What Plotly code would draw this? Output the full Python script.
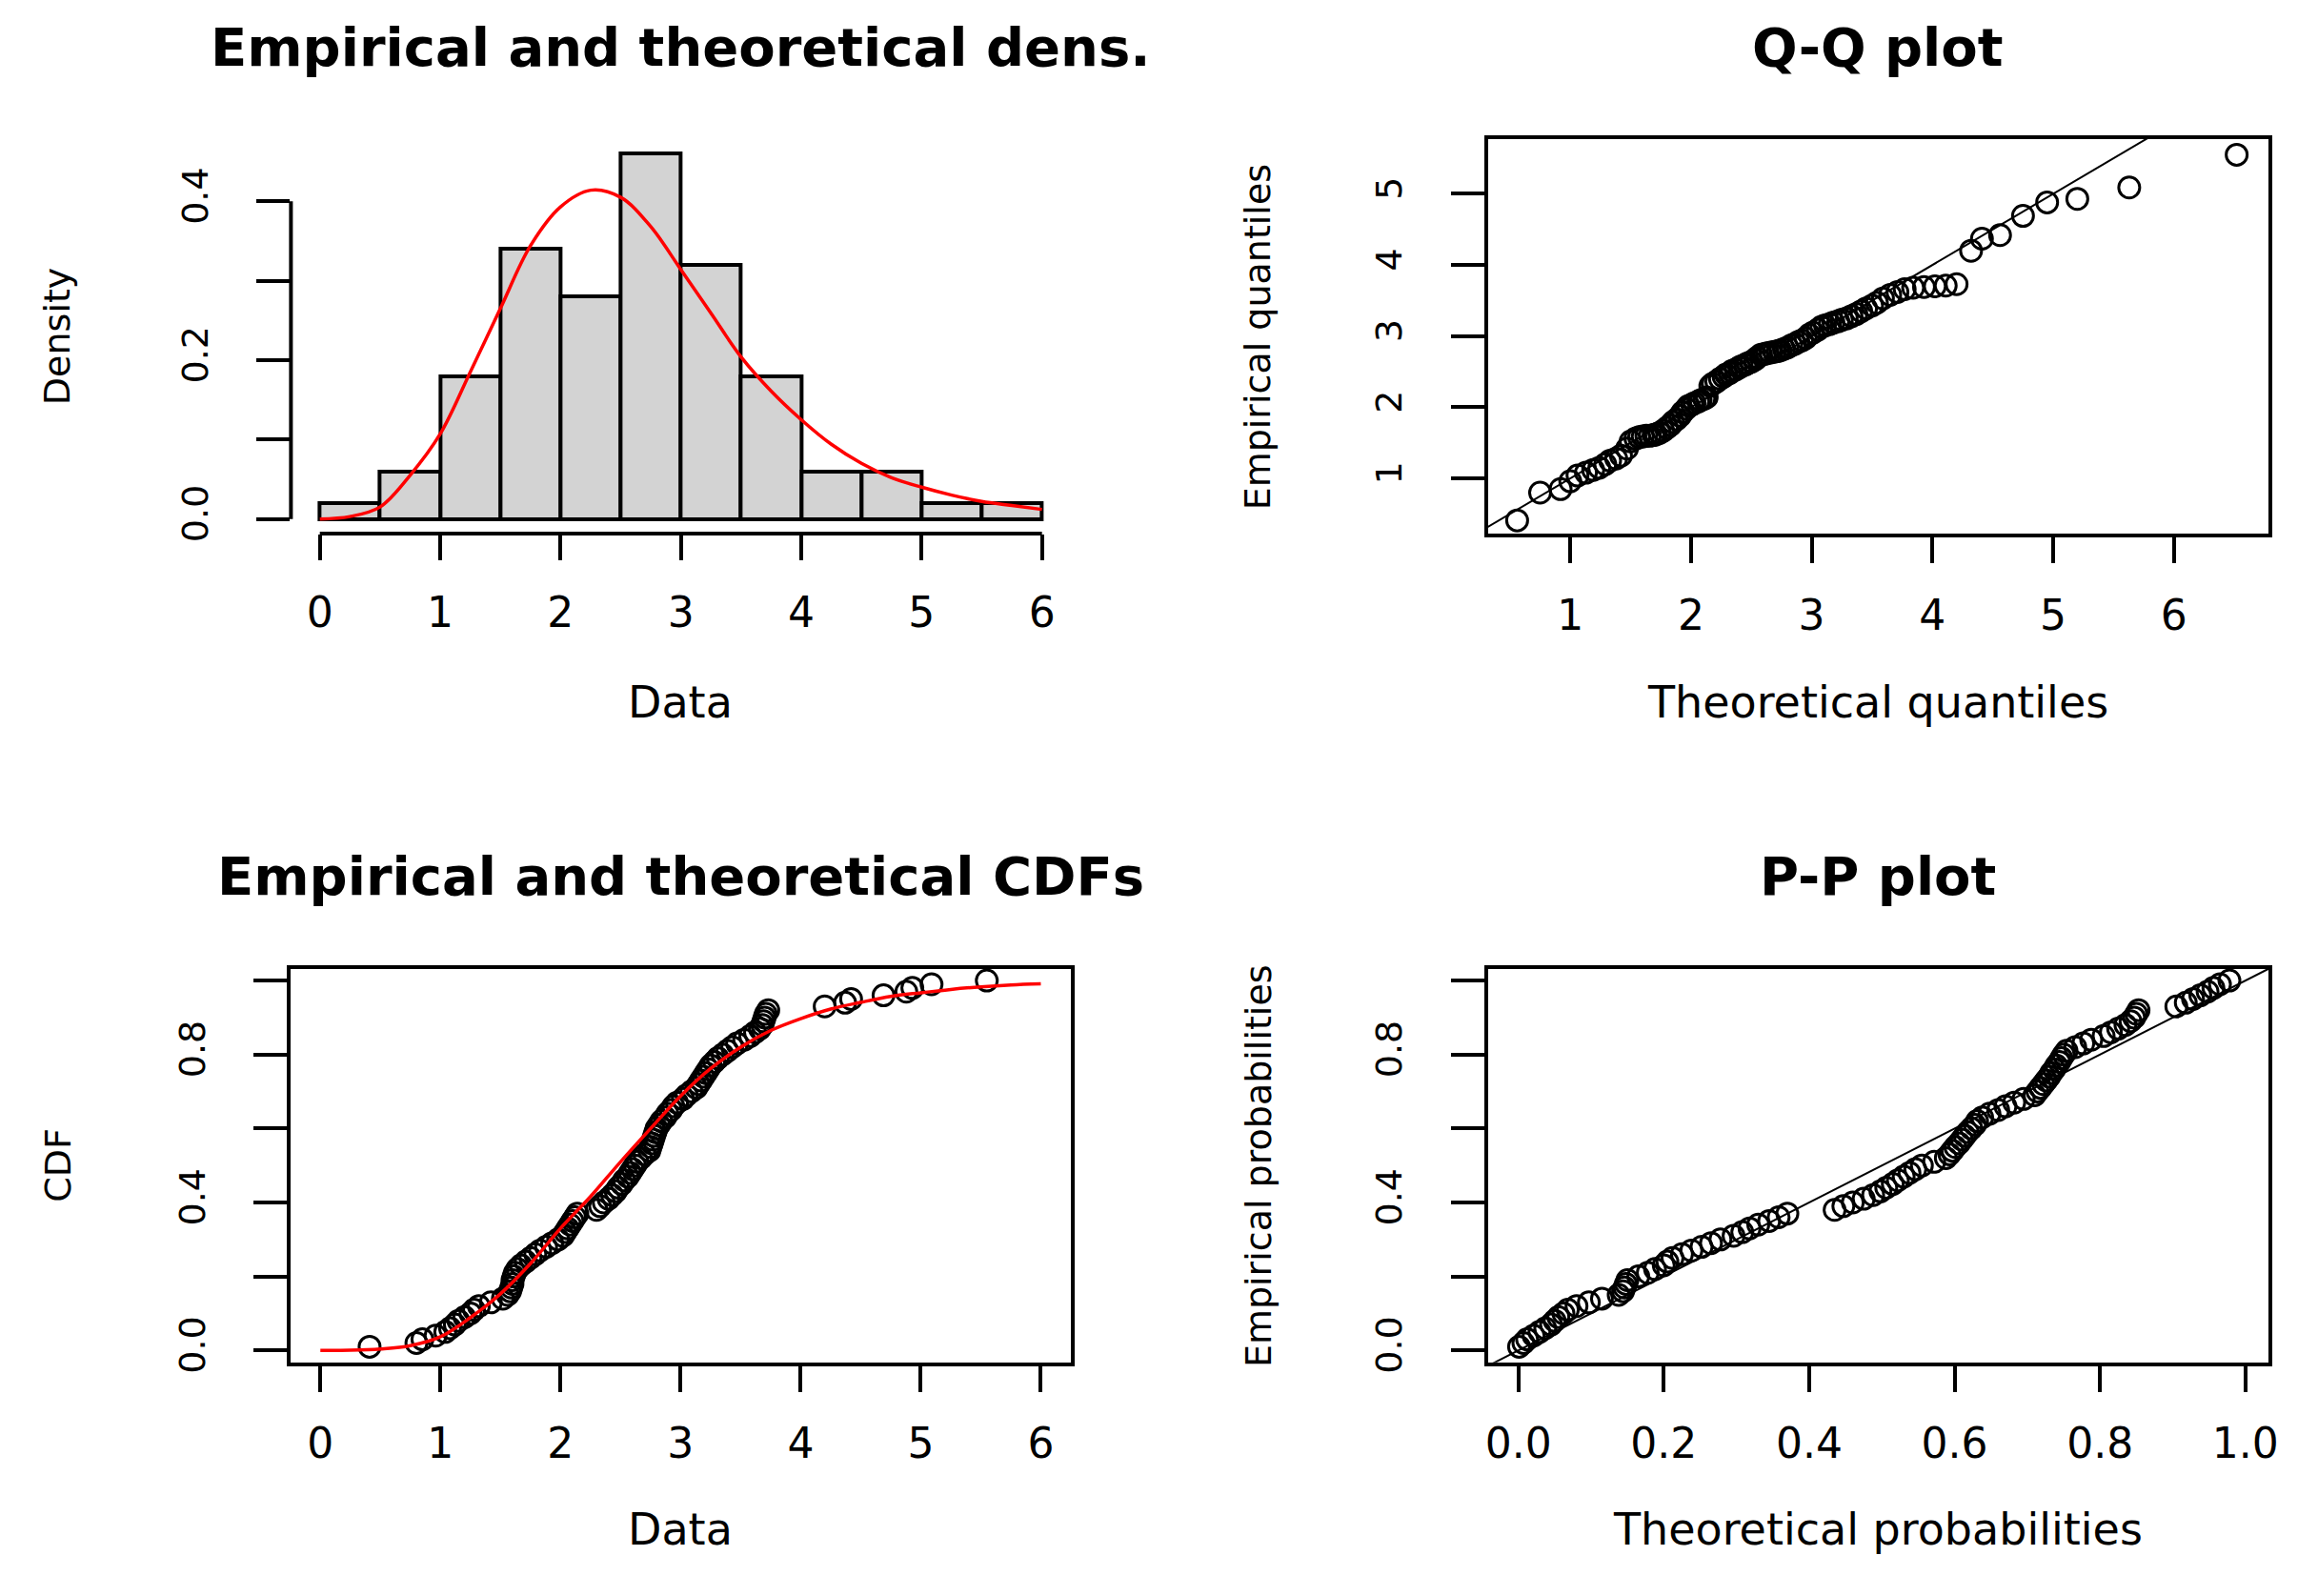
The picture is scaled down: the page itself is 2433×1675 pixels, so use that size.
import plotly.graph_objects as go

data_sorted = [0.41, 0.80, 0.85, 0.96,
               1.04, 1.08, 1.12, 1.15, 1.20, 1.25, 1.28, 1.32, 1.42,
               1.52, 1.56, 1.58, 1.59, 1.60, 1.60, 1.61, 1.62, 1.64, 1.67, 1.71, 1.75, 1.79, 1.83, 1.88, 1.93, 1.98,
               2.02, 2.04, 2.06, 2.08, 2.10, 2.12, 2.14, 2.30, 2.33, 2.36, 2.40, 2.43, 2.46, 2.48,
               2.51, 2.53, 2.56, 2.58, 2.60, 2.62, 2.64, 2.67, 2.70, 2.74, 2.75, 2.76, 2.77, 2.78, 2.79, 2.80,
               2.82, 2.84, 2.87, 2.89, 2.92, 2.94, 2.97,
               3.02, 3.05, 3.09, 3.13, 3.15, 3.17, 3.19, 3.21, 3.23, 3.25, 3.28, 3.31, 3.35, 3.39, 3.43, 3.47,
               3.53, 3.58, 3.62, 3.66, 3.68, 3.69, 3.70, 3.71, 3.73,
               4.20, 4.37, 4.42, 4.69, 4.88, 4.93, 5.09, 5.55]

# Q-Q plot x positions (theoretical quantiles)
theo_quant = [0.56, 0.75, 0.92, 1.00, 1.06, 1.13, 1.19, 1.24, 1.29, 1.33,
              1.38, 1.42, 1.47, 1.50, 1.54, 1.57, 1.60, 1.63, 1.66, 1.69,
              1.71, 1.74, 1.77, 1.80, 1.83, 1.85, 1.88, 1.91, 1.93, 1.96,
              1.98, 2.01, 2.03, 2.06, 2.08, 2.11, 2.13, 2.16, 2.18, 2.21,
              2.24, 2.27, 2.29, 2.32, 2.34, 2.37, 2.40, 2.42, 2.45, 2.47,
              2.50, 2.53, 2.55, 2.58, 2.61, 2.63, 2.66, 2.69, 2.72, 2.74,
              2.77, 2.80, 2.83, 2.86, 2.89, 2.92, 2.95, 2.98, 3.01, 3.05,
              3.08, 3.11, 3.15, 3.18, 3.22, 3.25, 3.29, 3.33, 3.37, 3.41,
              3.45, 3.50, 3.54, 3.59, 3.65, 3.71, 3.77, 3.84, 3.93, 4.02,
              4.11, 4.20, 4.32, 4.41, 4.56, 4.75, 4.95, 5.20, 5.63, 6.52]

# P-P plot x positions (theoretical probabilities)
theo_prob = [0.001, 0.007, 0.012, 0.021, 0.029, 0.037, 0.045, 0.050, 0.055, 0.062,
             0.068, 0.080, 0.097, 0.115, 0.138, 0.144, 0.146, 0.148, 0.150, 0.165,
             0.178, 0.188, 0.200, 0.205, 0.212, 0.225, 0.238, 0.252, 0.265, 0.278,
             0.296, 0.308, 0.318, 0.330, 0.345, 0.358, 0.370, 0.435, 0.447, 0.460,
             0.475, 0.488, 0.498, 0.506, 0.515, 0.522, 0.530, 0.538, 0.546, 0.555,
             0.572, 0.588, 0.593, 0.597, 0.601, 0.606, 0.610, 0.614, 0.618, 0.623,
             0.628, 0.631, 0.638, 0.648, 0.660, 0.670, 0.682, 0.695, 0.710, 0.714,
             0.718, 0.722, 0.726, 0.730, 0.733, 0.737, 0.740, 0.744, 0.747, 0.750,
             0.754, 0.766, 0.777, 0.788, 0.805, 0.815, 0.825, 0.835, 0.842, 0.847,
             0.850, 0.853, 0.905, 0.918, 0.928, 0.938, 0.948, 0.956, 0.965, 0.978]

# fitted curves (red), read at 0.25 steps
curve_x = [0, 0.25, 0.5, 0.75, 1.0, 1.25, 1.5, 1.75, 2.0, 2.25, 2.5, 2.75, 3.0,
           3.25, 3.5, 3.75, 4.0, 4.25, 4.5, 4.75, 5.0, 5.25, 5.5, 5.75, 6.0]
dens_y = [0.0, 0.003, 0.015, 0.055, 0.107, 0.185, 0.265, 0.344, 0.393, 0.414, 0.405, 0.368, 0.314,
          0.259, 0.204, 0.161, 0.125, 0.094, 0.070, 0.052, 0.040, 0.030, 0.022, 0.017, 0.012]
cdf_y = [0.0, 0.0005, 0.004, 0.013, 0.037, 0.089, 0.153, 0.235, 0.330, 0.416, 0.510, 0.600, 0.688,
         0.762, 0.820, 0.865, 0.897, 0.923, 0.941, 0.957, 0.967, 0.976, 0.983, 0.988, 0.991]

data_ticks = [0, 1, 2, 3, 4, 5, 6]
dens_ticks = [0, 0.1, 0.2, 0.3, 0.4]
dens_labels = ["0.0", "", "0.2", "", "0.4"]
qq_xticks = [1, 2, 3, 4, 5, 6]
qq_yticks = [1, 2, 3, 4, 5]
prob_ticks = [0, 0.2, 0.4, 0.6, 0.8, 1.0]
prob_labels = ["0.0", "", "0.4", "", "0.8", ""]
pp_xlabels = ["0.0", "0.2", "0.4", "0.6", "0.8", "1.0"]

n = len(data_sorted)
emp_prob = [(k + 1) / n for k in range(n)]

W, H = 2433, 1675
FONT = "DejaVu Sans"

# panel edges in pixels
left_x = [304 / W, 1127 / W]
right_x = [1567 / W, 2391 / W]
top_y = [1 - 564 / H, 1 - 147 / H]
bot_y = [1 - 1440 / H, 1 - 1024 / H]

qq_xrange = [0.317, 6.785]
qq_yrange = [0.225, 5.77]

circle = dict(symbol="circle-open", size=22, color="black", line=dict(width=3, color="black"))

fig = go.Figure()
fig.add_trace(go.Histogram(x=data_sorted, xbins=dict(start=0, end=6, size=0.5),
                           histnorm="probability density",
                           marker=dict(color="#d3d3d3", line=dict(color="black", width=4)),
                           xaxis="x", yaxis="y"))
fig.add_trace(go.Scatter(x=curve_x, y=dens_y, mode="lines",
                         line=dict(color="red", width=3.5, shape="spline"), xaxis="x", yaxis="y"))

lo = min(qq_xrange[0], qq_yrange[0])
hi = max(qq_xrange[1], qq_yrange[1])
fig.add_trace(go.Scatter(x=[lo, hi], y=[lo, hi], mode="lines", line=dict(color="black", width=2),
                         xaxis="x2", yaxis="y2"))
fig.add_trace(go.Scatter(x=theo_quant, y=data_sorted, mode="markers", marker=circle,
                         xaxis="x2", yaxis="y2"))

fig.add_trace(go.Scatter(x=data_sorted, y=emp_prob, mode="markers", marker=circle,
                         xaxis="x3", yaxis="y3"))
fig.add_trace(go.Scatter(x=curve_x, y=cdf_y, mode="lines",
                         line=dict(color="red", width=3.5, shape="spline"), xaxis="x3", yaxis="y3"))

fig.add_trace(go.Scatter(x=[-0.1, 1.1], y=[-0.1, 1.1], mode="lines", line=dict(color="black", width=2),
                         xaxis="x4", yaxis="y4"))
fig.add_trace(go.Scatter(x=theo_prob, y=emp_prob, mode="markers", marker=circle,
                         xaxis="x4", yaxis="y4"))


def axis(domain, rng, vals, text, anchor, ticklen, box=True, angle=0, standoff=0, size=44):
    return dict(domain=domain, range=rng, tickvals=vals, ticktext=text, anchor=anchor,
                showgrid=False, zeroline=False, showline=box, mirror=box,
                linecolor="black", linewidth=4, ticks="outside", ticklen=ticklen,
                tickwidth=4, tickcolor="black", tickangle=angle, ticklabelstandoff=standoff,
                tickfont=dict(family=FONT, size=size, color="black"))


XLEN, YLEN = 27, 35
XOFF, YOFF = 17, 36
YSIZE = 38
fig.update_layout(
    width=W, height=H, autosize=False, showlegend=False, bargap=0,
    margin=dict(l=0, r=0, t=0, b=0),
    paper_bgcolor="white", plot_bgcolor="white",
    xaxis=axis(left_x, [-0.24, 6.24], data_ticks, [str(v) for v in data_ticks], "y", XLEN,
               box=False, standoff=XOFF),
    yaxis=axis(top_y, [-0.0184, 0.4784], dens_ticks, dens_labels, "x", YLEN,
               box=False, angle=-90, standoff=YOFF, size=YSIZE),
    xaxis2=axis(right_x, qq_xrange, qq_xticks, [str(v) for v in qq_xticks], "y2", XLEN, standoff=XOFF),
    yaxis2=axis(top_y, qq_yrange, qq_yticks, [str(v) for v in qq_yticks], "x2", YLEN,
                angle=-90, standoff=YOFF, size=YSIZE),
    xaxis3=axis(left_x, [-0.245, 6.25], data_ticks, [str(v) for v in data_ticks], "y3", XLEN,
                standoff=XOFF),
    yaxis3=axis(bot_y, [-0.032, 1.032], prob_ticks, prob_labels, "x3", YLEN, angle=-90,
                standoff=YOFF, size=YSIZE),
    xaxis4=axis(right_x, [-0.042, 1.032], prob_ticks, pp_xlabels, "y4", XLEN, standoff=XOFF),
    yaxis4=axis(bot_y, [-0.032, 1.032], prob_ticks, prob_labels, "x4", YLEN, angle=-90,
                standoff=YOFF, size=YSIZE),
)

# histogram panel has no box: R draws axis lines only across the tick span
fig.add_shape(type="line", xref="x domain", yref="y", x0=0, x1=0, y0=dens_ticks[0], y1=dens_ticks[-1],
              line=dict(color="black", width=4))
fig.add_shape(type="line", xref="x", yref="y domain", x0=data_ticks[0], x1=data_ticks[-1], y0=0, y1=0,
              line=dict(color="black", width=4))

titles = [("Empirical and theoretical dens.", 715, 50),
          ("Q-Q plot", 1979, 50),
          ("Empirical and theoretical CDFs", 715, 926),
          ("P-P plot", 1979, 926)]
for text, px, py in titles:
    fig.add_annotation(text="<b>%s</b>" % text, xref="paper", yref="paper", x=px / W, y=1 - py / H,
                       xanchor="center", yanchor="middle", showarrow=False,
                       font=dict(family=FONT, size=56, color="black"))

xlabels = [("Data", 715, 742), ("Theoretical quantiles", 1979, 742),
           ("Data", 715, 1617), ("Theoretical probabilities", 1979, 1617)]
for text, px, py in xlabels:
    fig.add_annotation(text=text, xref="paper", yref="paper", x=px / W, y=1 - py / H,
                       xanchor="center", yanchor="middle", showarrow=False,
                       font=dict(family=FONT, size=46, color="black"))

ylabels = [("Density", 58, 356), ("Empirical quantiles", 1325, 356),
           ("CDF", 58, 1232), ("Empirical probabilities", 1325, 1232)]
for text, px, py in ylabels:
    fig.add_annotation(text=text, xref="paper", yref="paper", x=px / W, y=1 - py / H,
                       xanchor="center", yanchor="middle", showarrow=False, textangle=-90,
                       font=dict(family=FONT, size=38, color="black"))

fig.write_html("out.html", config={"displayModeBar": False},
               post_script="document.body.style.margin='0px';")
